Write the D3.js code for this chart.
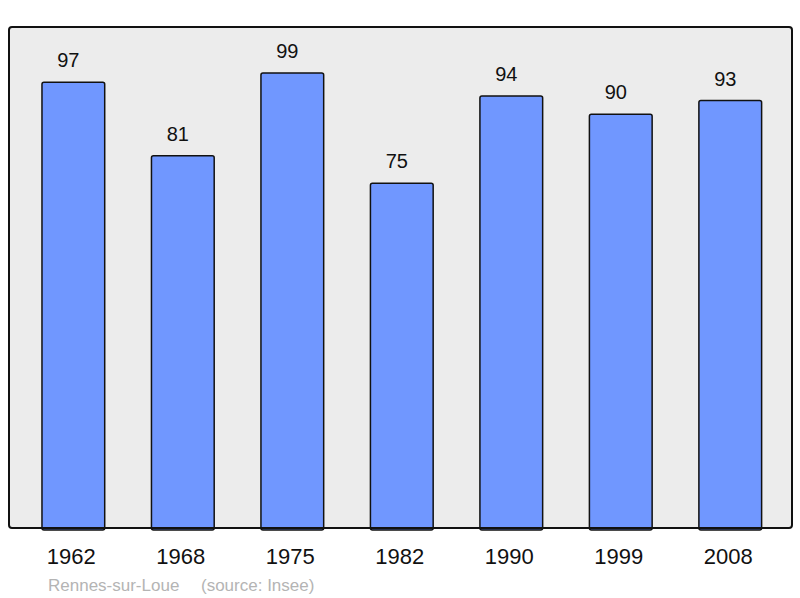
<!DOCTYPE html>
<html>
<head>
<meta charset="utf-8">
<script src="https://cdn.jsdelivr.net/npm/d3@7"></script>
<style>
  body { margin: 0; background: #fff; }
  text { font-family: "Liberation Sans", Arial, sans-serif; }
</style>
</head>
<body>
<div id="chart"></div>
<script>
// data
var years = ["1962", "1968", "1975", "1982", "1990", "1999", "2008"];
var population = [97, 81, 99, 75, 94, 90, 93];
var place = "Rennes-sur-Loue";
var source = "(source: Insee)";

var width = 800, height = 598;
var frame = { left: 9, top: 27, right: 792, bottom: 528 };

var svg = d3.select("#chart")
  .append("svg")
  .attr("width", width)
  .attr("height", height);

var x = d3.scaleBand()
  .domain(years)
  .range([18.6, 785])
  .paddingInner(0.427)
  .paddingOuter(0.2135);

var y = d3.scaleLinear()
  .domain([0, 109])
  .range([frame.bottom, frame.top]);

// plot background
svg.append("rect")
  .attr("x", frame.left)
  .attr("y", frame.top)
  .attr("width", frame.right - frame.left)
  .attr("height", frame.bottom - frame.top)
  .attr("rx", 3)
  .attr("fill", "#ececec")
  .attr("stroke", "none");

// bars
svg.selectAll("rect.bar")
  .data(population)
  .enter()
  .append("rect")
  .attr("class", "bar")
  .attr("x", function(d, i) { return x(years[i]); })
  .attr("y", function(d) { return y(d); })
  .attr("width", x.bandwidth())
  .attr("height", function(d) { return y(0) - y(d) + 2; })
  .attr("rx", 2)
  .attr("fill", "#7097ff")
  .attr("stroke", "#111")
  .attr("stroke-width", 1.5);

// frame on top
svg.append("rect")
  .attr("x", frame.left)
  .attr("y", frame.top)
  .attr("width", frame.right - frame.left)
  .attr("height", frame.bottom - frame.top)
  .attr("rx", 3)
  .attr("fill", "none")
  .attr("stroke", "#111")
  .attr("stroke-width", 2);

// value labels
svg.selectAll("text.value")
  .data(population)
  .enter()
  .append("text")
  .attr("class", "value")
  .attr("x", function(d, i) { return x(years[i]) + x.bandwidth() / 2 - 5; })
  .attr("y", function(d) { return y(d) - 15; })
  .attr("text-anchor", "middle")
  .attr("font-size", 20)
  .attr("fill", "#111")
  .text(function(d) { return d; });

// year labels
var xAxis = d3.axisBottom(x).tickSize(0).tickPadding(0);
var gx = svg.append("g")
  .attr("transform", "translate(-2," + frame.bottom + ")")
  .call(xAxis);
gx.select(".domain").remove();
gx.selectAll("text")
  .attr("dy", null)
  .attr("y", 36)
  .attr("font-size", 22)
  .attr("font-family", "Liberation Sans, Arial, sans-serif")
  .attr("fill", "#111");

// footer
var foot = svg.append("text")
  .attr("y", 591)
  .attr("font-size", 17)
  .attr("fill", "#b4b4b4");
foot.append("tspan").attr("x", 48).text(place);
foot.append("tspan").attr("x", 201).text(source);
</script>
</body>
</html>
